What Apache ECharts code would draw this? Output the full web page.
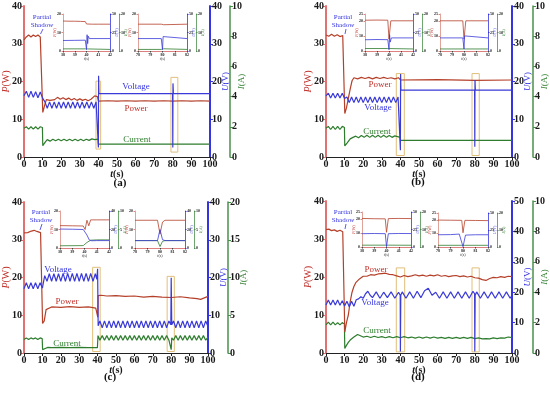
<!DOCTYPE html>
<html><head><meta charset="utf-8">
<script src="https://cdn.jsdelivr.net/npm/echarts@6/dist/echarts.min.js"></script>
<style>html,body{margin:0;padding:0;background:#fff}#c{width:550px;height:395px}</style>
</head><body><div id="c"></div>
<script>
// ---------------- DATA (t in s, value) ----------------
const powerA = [[0,31],[0.6,31.4],[1.25,31.8],[2.5,32.3],[3.75,31.8],[5,32.3],[6.25,31.9],[7.5,32.3],[8.75,31.8],[9.8,32],[10.1,11.8],[11,13.5],[12,15.2],[13,15.6],[14,15],[15,15.5],[16.5,15.2],[18,15.8],[19.5,15.3],[21,15.7],[22.5,15.2],[24,15.6],[25.5,15.1],[27,15.5],[28.5,15],[30,15.4],[31.5,15],[33,15.3],[34.5,14.9],[36,15.3],[37,15.8],[38,16.2],[39.5,16],[39.9,15.8],[40,14.8],[45,14.9],[50,14.8],[55,14.9],[60,14.8],[65,14.9],[70,14.8],[75,14.9],[80,14.8],[85,14.9],[90,14.8],[95,14.9],[100,14.8]];
const voltageA = [[0,16.2],[1.25,17.4],[2.5,15.8],[3.75,17.4],[5,15.8],[6.25,17.3],[7.5,15.7],[8.75,17.2],[10,15.6],[11.25,14.6],[12.5,12.9],[13.75,14.6],[15,12.9],[16.25,14.6],[17.5,12.9],[18.75,14.6],[20,12.9],[21.25,14.6],[22.5,12.9],[23.75,14.6],[25,12.9],[26.25,14.6],[27.5,12.9],[28.75,14.6],[30,12.9],[31.25,14.6],[32.5,12.9],[33.75,14.6],[35,12.9],[36.25,14.6],[37.5,12.9],[38.75,14.6],[39.8,14.2],[40,2.5],[40.1,21.5],[40.3,16.8],[79.9,16.8],[80,2.5],[80.1,19.5],[80.3,16.8],[100,16.8]];
const currentA = [[0,1.9],[1.25,2.0],[2.5,1.85],[3.75,2.0],[5,1.85],[6.25,2.0],[7.5,1.85],[8.75,2.0],[9.9,1.95],[10.1,0.75],[11.5,1.0],[12.5,1.15],[14,1.05],[15.5,1.18],[17,1.08],[18.5,1.18],[20,1.08],[21.5,1.18],[23,1.08],[24.5,1.18],[26,1.08],[27.5,1.18],[29,1.08],[30.5,1.18],[32,1.08],[33.5,1.18],[35,1.1],[36.5,1.2],[38,1.15],[39.9,1.18],[40,0.85],[100,0.85]];
const boxesA = [[38.7,2.1,41.2,20.1],[79,1.3,82.7,21.1]];

const powerB = [[0,32.3],[1.5,32],[3,32.5],[4.5,32],[6,32.4],[7.5,31.9],[9,32.2],[9.9,31.8],[10.1,11.5],[11,13],[12,15.5],[13,18],[14,20.2],[15,21],[17,20.7],[19,21.1],[21,20.8],[23,21.1],[25,20.7],[27,21.1],[29,20.8],[31,21.1],[33,20.8],[35,21],[37,20.7],[39,21],[40,20.4],[60,20.5],[80,20.3],[100,20.4]];
const voltageB = [[0,16.2],[1.25,16.9],[2.5,15.6],[3.75,16.9],[5,15.6],[6.25,16.9],[7.5,15.6],[8.75,16.9],[10,15.5],[11.25,15.9],[12.5,14.4],[13.75,15.9],[15,14.4],[16.25,15.9],[17.5,14.4],[18.75,15.9],[20,14.4],[21.25,15.9],[22.5,14.4],[23.75,15.9],[25,14.4],[26.25,15.9],[27.5,14.4],[28.75,15.9],[30,14.4],[31.25,15.9],[32.5,14.4],[33.75,15.9],[35,14.4],[36.25,15.9],[37.5,14.4],[38.75,15.9],[39.8,15.5],[40,1.8],[40.1,22],[40.3,17.7],[79.9,17.7],[80,2.7],[80.1,20.4],[80.3,17.7],[100,17.7]];
const currentB = [[0,1.9],[1.25,2.03],[2.5,1.82],[3.75,2.03],[5,1.82],[6.25,2.03],[7.5,1.82],[8.75,2.03],[9.9,1.95],[10.1,0.73],[11.5,0.95],[13,1.2],[14.5,1.3],[16,1.38],[17.5,1.28],[19,1.42],[20.5,1.3],[22,1.44],[23.5,1.3],[25,1.44],[26.5,1.3],[28,1.44],[29.5,1.3],[31,1.44],[32.5,1.3],[34,1.42],[35.5,1.3],[37,1.4],[38.5,1.35],[39.9,1.3],[40,1.1],[100,1.1]];
const boxesB = [[37.8,0.4,42.1,22.1],[78.5,0.4,82.4,22.1]];

const powerC = [[0,31.8],[2,31.9],[4,32.3],[5.5,32.5],[7,32.2],[9,31.9],[9.9,31.6],[10.1,7.8],[11,8.5],[12,11.5],[13,12],[15,12.2],[20,12.1],[25,12.3],[30,12.1],[35,12.2],[39,11.9],[39.9,11.8],[40.1,9.5],[40.3,15.2],[42,15.3],[45,15.1],[50,15.2],[55,15],[60,15.1],[65,14.8],[70,15],[75,14.8],[80,14.7],[85,14.9],[90,14.6],[94,14.4],[96,14.2],[98,14.6],[100,15]];
const voltageC = [[0,17],[1.25,18.6],[2.5,17],[3.75,18.6],[5,17],[6.25,18.6],[7.5,17],[8.75,18.6],[10,17.2],[11.25,20.5],[12.5,19],[13.75,21],[15,19],[16.25,21],[17.5,19],[18.75,21],[20,19],[21.25,21.1],[22.5,19],[23.75,21.1],[25,19],[26.25,21.1],[27.5,19],[28.75,21.1],[30,19],[31.25,21.1],[32.5,19],[33.75,21.1],[35,19],[36.25,21.1],[37.5,19],[38.75,21],[39.6,19.5],[40,22.3],[40.3,7.2],[41.25,8.5],[42.5,6.7],[43.75,8.5],[45,6.7],[46.25,8.5],[47.5,6.7],[48.75,8.5],[50,6.7],[51.25,8.5],[52.5,6.7],[53.75,8.5],[55,6.7],[56.25,8.5],[57.5,6.7],[58.75,8.5],[60,6.7],[61.25,8.5],[62.5,6.7],[63.75,8.5],[65,6.7],[66.25,8.5],[67.5,6.7],[68.75,8.5],[70,6.7],[71.25,8.5],[72.5,6.7],[73.75,8.5],[75,6.7],[76.25,8.5],[77.5,6.7],[78.75,8.5],[79.8,7.5],[80,19.9],[80.3,7.5],[81.25,8.5],[82.5,6.7],[83.75,8.5],[85,6.7],[86.25,8.5],[87.5,6.7],[88.75,8.5],[90,6.7],[91.25,8.5],[92.5,6.7],[93.75,8.5],[95,6.7],[96.25,8.5],[97.5,6.7],[98.75,8.5],[100,7]];
const currentC = [[0,1.8],[1.25,2.0],[2.5,1.8],[3.75,2.0],[5,1.85],[6.25,2.0],[7.5,1.8],[8.75,2.0],[9.9,1.9],[10.1,0.45],[11.5,0.6],[13,0.75],[15,0.72],[20,0.75],[25,0.72],[30,0.75],[35,0.72],[39.9,0.7],[40.2,2.3],[41.25,1.7],[42.5,2.3],[43.75,1.7],[45,2.3],[46.25,1.7],[47.5,2.3],[48.75,1.7],[50,2.3],[51.25,1.7],[52.5,2.3],[53.75,1.7],[55,2.3],[56.25,1.7],[57.5,2.3],[58.75,1.7],[60,2.3],[61.25,1.7],[62.5,2.3],[63.75,1.7],[65,2.3],[66.25,1.7],[67.5,2.3],[68.75,1.7],[70,2.3],[71.25,1.7],[72.5,2.3],[73.75,1.7],[75,2.3],[76.25,1.7],[77.5,2.3],[78.75,1.7],[79.8,1.9],[80,0.45],[80.3,2.0],[81.25,1.7],[82.5,2.3],[83.75,1.7],[85,2.3],[86.25,1.7],[87.5,2.3],[88.75,1.7],[90,2.3],[91.25,1.7],[92.5,2.3],[93.75,1.7],[95,2.3],[96.25,1.7],[97.5,2.3],[98.75,1.7],[100,2.1]];
const boxesC = [[37.3,0.4,41.4,22.7],[77.8,0.4,81.7,20.3]];

const powerD = [[0,32.5],[1.5,32.6],[3,32.2],[4.5,32.4],[6,32],[7.5,32.3],[9,31.9],[9.9,32.4],[10.1,5.5],[11,8],[12,10],[13,13.5],[14,16],[15,17.5],[16,18.5],[17,19],[18,19.5],[20,20.2],[22,20.2],[24,20.6],[26,20.5],[28,20.8],[30,20.9],[32,21],[34,20.7],[36,20.6],[38,20.3],[40,20],[42,20.4],[44,20.1],[46,20.3],[48,20.6],[50,20.3],[52,20.5],[54,20.2],[56,20.5],[58,20.3],[60,20.6],[62,20.2],[64,20.4],[66,20.1],[68,20.3],[70,20.4],[72,20.1],[74,20.3],[76,20],[78,20.2],[80,19.8],[82,19.7],[84,19.3],[86,19.1],[88,19.6],[90,19.9],[92,19.8],[94,20.1],[96,19.9],[98,20.2],[100,20.1]];
const voltageD = [[0,15.8],[1.25,17.4],[2.5,15.8],[3.75,17.4],[5,15.8],[6.25,17.4],[7.5,15.7],[8.75,17.2],[10,15.5],[11.25,17],[12.5,15.2],[13.75,17],[15,15.4],[16.25,17.5],[17.5,17.8],[18.75,18.5],[20,18],[21.25,19.5],[22.5,20.3],[23.75,19],[25,18.2],[27,20.1],[29,18],[31,20],[33,18.2],[35,20.1],[37,18],[39,20],[39.9,19],[40,0.5],[40.2,19],[41,20.1],[43,18],[45,20.1],[47,18],[49,20.3],[51,18.2],[53,20.5],[55,21.3],[57,19],[59,20],[61,18],[63,20.1],[65,18],[67,20.1],[69,18],[71,20.1],[73,18],[75,20.1],[77,18],[79,20.3],[79.9,19.5],[80,0.5],[80.2,19],[81,20.1],[83,18],[85,20.1],[87,18],[89,20.1],[91,18],[93,20.1],[95,18],[97,20.1],[99,18],[100,19]];
const currentD = [[0,1.85],[1.25,2.03],[2.5,1.85],[3.75,2.03],[5,1.85],[6.25,2.0],[7.5,1.85],[8.75,2.0],[9.9,1.9],[10.1,0.3],[11,0.5],[12,0.7],[13,0.85],[14,0.95],[15,1.05],[16,1.15],[17,1.22],[18,1.15],[20,1.05],[22,1.1],[24,1.02],[26,1.1],[28,1.02],[30,1.08],[32,1.0],[34,1.08],[36,1.0],[38,1.08],[40,1.0],[42,1.08],[44,1.0],[46,1.05],[48,0.98],[50,1.05],[52,0.98],[54,1.05],[56,0.98],[58,1.05],[60,0.98],[62,1.03],[64,0.96],[66,1.03],[68,0.96],[70,1.03],[72,0.96],[74,1.03],[76,0.96],[78,1.03],[80,0.95],[82,1.0],[84,0.93],[86,0.95],[88,0.93],[90,1.0],[92,0.95],[94,1.0],[96,0.98],[98,1.05],[100,1.02]];
const boxesD = [[37.8,0.3,42.3,22.4],[78.5,0.3,82.4,22.4]];

// inset data (zoomed views around 40 s and 80 s)
const insA1P = [[38,16.2],[38.5,16.1],[39,16.1],[39.5,16.0],[39.9,15.9],[40,14.6],[40.5,14.5],[41,14.5],[42,14.5]];
const insA1U = [[38,14.2],[39,14.4],[39.9,14.6],[40,2],[40.05,22],[40.1,10],[40.15,20],[40.25,16.8],[42,16.8]];
const insA1I = [[38,1.15],[39.9,1.15],[40,0.85],[42,0.85]];
const insA2P = [[78,14.5],[79.9,14.5],[80,15.5],[80.1,14.2],[80.2,14.5],[82,14.5]];
const insA2U = [[78,16.8],[79.9,16.8],[80,2],[80.05,19.5],[80.15,16.8],[82,16.8]];
const insA2I = [[78,0.85],[79.9,0.85],[80,0.3],[80.1,1.2],[80.2,0.85],[82,0.85]];
const insB1P = [[38,20.8],[39,20.9],[39.9,20.8],[40,8],[40.15,20.4],[42,20.4]];
const insB1U = [[38,15.2],[39,15.5],[39.9,15.3],[40,1.8],[40.05,22],[40.1,12],[40.2,17.7],[42,17.7]];
const insB1I = [[38,1.35],[39.9,1.35],[40,1.1],[42,1.1]];
const insB2P = [[78,20.4],[79.9,20.4],[80,8],[80.15,20.4],[82,20.4]];
const insB2U = [[78,17.7],[79.9,17.7],[80,2.7],[80.05,20.4],[80.15,17.7],[82,17.7]];
const insB2I = [[78,1.1],[79.9,1.1],[80,0.6],[80.1,1.1],[82,1.1]];
const insC1P = [[38,12.1],[39,12],[39.9,11.9],[40.05,10],[40.2,15],[40.35,12],[40.5,15.2],[41,15.2],[42,15.2]];
const insC1U = [[38,20.5],[39,20.3],[39.9,20],[40.2,14],[40.4,8.5],[40.6,7.8],[41,8],[42,8]];
const insC1I = [[38,0.6],[39.9,0.65],[40.2,1.5],[40.5,2.1],[41,2.2],[42,2.2]];
const insC2P = [[78,15],[79.8,15],[80,7.5],[80.2,14],[80.4,15],[82,15]];
const insC2U = [[78,8],[79.8,8],[80,20],[80.2,9],[80.4,8],[82,8]];
const insC2I = [[78,2],[79.8,2],[80,0.4],[80.2,1.8],[80.4,2],[82,2]];
const insD1P = [[38,20.4],[39,20.2],[39.9,20.1],[40,10.5],[40.15,20.3],[41,20.4],[42,20.3]];
const insD1U = [[38,19],[39,19.3],[39.9,19],[40,0.5],[40.15,19],[41,19.3],[42,19.2]];
const insD1I = [[38,1.05],[39.9,1.05],[40,0.3],[40.15,1.05],[42,1.0]];
const insD2P = [[78,19.8],[79,19.7],[79.9,19.6],[80,10.5],[80.15,19.6],[81,19.5],[82,19.4]];
const insD2U = [[78,18],[79,18.2],[79.7,19],[80,0.5],[80.2,17.5],[81,18],[82,18]];
const insD2I = [[78,1.0],[79.9,1.0],[80,0.3],[80.15,1.0],[82,1.0]];

const seriesNames = ['Power','Voltage','Current'];
const panelTags = ['(a)','(b)','(c)','(d)'];
const annotationText = ['Partial','Shadow'];

// ---------------- STYLE / LAYOUT ----------------
const SERIF = 'Liberation Serif';
const COL = {P:'#b5402a', U:'#3a3ad8', I:'#2e7d2e', Pax:'#e07272', Uax:'#3434e0', Iax:'#4a8f4a', box:'#e2bf7a', txt:'#1a1a1a'};
const option = {animation:false, backgroundColor:'#fff', grid:[], xAxis:[], yAxis:[], series:[], graphic:[]};
const tickLbl = (sz)=>({fontFamily:SERIF, fontWeight:'bold', fontSize:sz, color:COL.txt});

function yAx(gi, pos, off, min, max, interval, color, name, nameColor, gap, sz, nsz, lw, tl){
  option.yAxis.push({type:'value', gridIndex:gi, position:pos, offset:off, min, max, interval,
    axisLine:{show:true, onZero:false, lineStyle:{color, width:lw}},
    axisTick:{show:true, length:tl, lineStyle:{color, width:1}},
    axisLabel:Object.assign({margin:2}, tickLbl(sz)),
    splitLine:{show:false},
    name, nameLocation:'middle', nameGap:gap, nameMoveOverlap:false,
    nameTextStyle:{fontFamily:SERIF, fontSize:nsz, color:nameColor, rich:{i:{fontFamily:SERIF, fontSize:nsz, fontStyle:'italic', color:nameColor}}}
  });
  return option.yAxis.length-1;
}
function lineSeries(gi, yi, data, color, w, z){
  return {type:'line', xAxisIndex:gi, yAxisIndex:yi, data, showSymbol:false, symbol:'none', z,
    lineStyle:{color, width:w}, silent:true};
}

function addPanel(p){
  const gi = option.grid.length;
  option.grid.push({left:p.left, top:p.top, width:p.width, height:p.height});
  option.xAxis.push({type:'value', gridIndex:gi, min:0, max:100, interval:10,
    axisLine:{onZero:false, lineStyle:{color:'#222', width:1.2}}, axisTick:{length:3, lineStyle:{color:'#222'}},
    axisLabel:Object.assign({margin:2}, tickLbl(10)), splitLine:{show:false},
    name:'{i|t}(s)', nameLocation:'middle', nameGap:12, nameMoveOverlap:false,
    nameTextStyle:{fontFamily:SERIF, fontWeight:'bold', fontSize:10, color:COL.txt, rich:{i:{fontFamily:SERIF, fontWeight:'bold', fontStyle:'italic', fontSize:10, color:COL.txt}}}});
  const yP = yAx(gi,'left',0,0,40,10,COL.Pax,'{i|P}(W)','#c0302a',13,10,10,2,3);
  const yU = yAx(gi,'right',0,0,p.uMax,10,COL.Uax,'{i|U}(V)','#3434e0',11,10,9,2,3);
  const yI = yAx(gi,'right',p.iOff,0,p.iMax,p.iInt,COL.Iax,'{i|I}(A)','#2e7d2e',p.iGap,10,9,1.5,3);
  const ps = lineSeries(gi,yP,p.P,COL.P,1.2,3);
  ps.markArea = {silent:true, itemStyle:{color:'rgba(0,0,0,0)', borderColor:COL.box, borderWidth:1},
    data:p.boxes.map(b=>[{coord:[b[0],b[1]]},{coord:[b[2],b[3]]}])};
  option.series.push(lineSeries(gi,yI,p.I,COL.I,1.2,3));
  option.series.push(ps);
  option.series.push(lineSeries(gi,yU,p.U,COL.U,1.2,4));
  const lab = (txt,x,y,c)=>option.graphic.push({type:'text', x, y, z:50, style:{text:txt, fill:c, font:'9px "Liberation Serif"', textAlign:'center', textVerticalAlign:'middle'}});
  lab(seriesNames[0], p.lp[0], p.lp[1], '#c0302a');
  lab(seriesNames[1], p.lv[0], p.lv[1], '#3434e0');
  lab(seriesNames[2], p.lc[0], p.lc[1], '#2e7d2e');
  option.graphic.push({type:'text', x:p.ps[0], y:p.ps[1], z:50, style:{text:annotationText.join('\n'), fill:'#3434e0', font:'7px "Liberation Serif"', textAlign:'center', lineHeight:8}});
  option.graphic.push({type:'line', z:50, shape:{x1:p.arrow[0], y1:p.arrow[1], x2:p.arrow[2], y2:p.arrow[3]}, style:{stroke:'#3434e0', lineWidth:0.8}});
  option.graphic.push({type:'text', x:p.tag[0], y:p.tag[1], z:50, style:{text:p.tagText, fill:'#111', font:'bold 11px "Liberation Serif"', textAlign:'center', textVerticalAlign:'middle'}});
}

function addInset(s){
  const gi = option.grid.length;
  option.grid.push({left:s.left, top:s.top, width:s.width, height:s.height, show:true, backgroundColor:'#fff', borderWidth:0, z:5});
  option.xAxis.push({type:'value', gridIndex:gi, min:s.t0, max:s.t0+4, interval:1, z:6,
    axisLine:{onZero:false, lineStyle:{color:'#d46060', width:0.8}}, axisTick:{length:1.5, lineStyle:{color:'#444'}},
    axisLabel:Object.assign({margin:1.5}, tickLbl(4)), splitLine:{show:false},
    name:'{i|t}(s)', nameLocation:'middle', nameGap:6, nameMoveOverlap:false,
    nameTextStyle:{fontFamily:SERIF, fontSize:4, color:'#333', rich:{i:{fontFamily:SERIF, fontStyle:'italic', fontSize:4, color:'#333'}}}});
  const yP = yAx(gi,'left',0,0,s.pMax,10,'#d98a80','{i|P}(W)','#c0302a',6,4,4,0.8,1.5);
  const yU = yAx(gi,'right',0,0,s.uMax,s.uInt,COL.Uax,'{i|U}(V)','#3434e0',5,4,4,0.8,1.5);
  const yI = yAx(gi,'right',9,0,s.iMax,s.iInt,COL.Iax,'{i|I}(A)','#2e7d2e',5,4,4,0.8,1.5);
  option.yAxis[yP].z = option.yAxis[yU].z = option.yAxis[yI].z = 6;
  option.series.push(lineSeries(gi,yI,s.I,COL.I,0.8,7));
  option.series.push(lineSeries(gi,yP,s.P,COL.P,0.8,7));
  option.series.push(lineSeries(gi,yU,s.U,COL.U,0.8,8));
}

addPanel({left:22, top:6, width:188, height:151, uMax:40, iMax:10, iInt:2, iOff:20, iGap:7, P:powerA, U:voltageA, I:currentA, boxes:boxesA,
  lp:[136,109], lv:[136,87], lc:[137,140], ps:[42,13], arrow:[43,29,40.5,34], tag:[120,183], tagText:panelTags[0]});
addPanel({left:326, top:6, width:186, height:151, uMax:40, iMax:10, iInt:2, iOff:21, iGap:7, P:powerB, U:voltageB, I:currentB, boxes:boxesB,
  lp:[380,85], lv:[378,108], lc:[377,132], ps:[343,13], arrow:[346,29,345,34], tag:[418,182], tagText:panelTags[1]});
addPanel({left:21, top:202, width:187, height:151, uMax:40, iMax:20, iInt:5, iOff:20, iGap:11, P:powerC, U:voltageC, I:currentC, boxes:boxesC,
  lp:[67,302], lv:[58,270], lc:[67,344], ps:[41,208], arrow:[42,224,40,230], tag:[110,377], tagText:panelTags[2]});
addPanel({left:326, top:201, width:186, height:152, uMax:50, iMax:10, iInt:2, iOff:21, iGap:7, P:powerD, U:voltageD, I:currentD, boxes:boxesD,
  lp:[376,270], lv:[375,303], lc:[377,331], ps:[343,208], arrow:[346,224,345,229], tag:[418,377], tagText:panelTags[3]});

addInset({left:63, top:14, width:47, height:37, t0:38, P:insA1P, U:insA1U, I:insA1I, pMax:20, uMax:50, uInt:25, iMax:20, iInt:10});
addInset({left:138, top:14, width:49, height:37, t0:78, P:insA2P, U:insA2U, I:insA2I, pMax:20, uMax:50, uInt:25, iMax:20, iInt:10});
addInset({left:365, top:14, width:48, height:37, t0:38, P:insB1P, U:insB1U, I:insB1I, pMax:25, uMax:50, uInt:25, iMax:20, iInt:10});
addInset({left:440, top:14, width:48, height:37, t0:78, P:insB2P, U:insB2U, I:insB2I, pMax:25, uMax:50, uInt:25, iMax:20, iInt:10});
addInset({left:60, top:211, width:49, height:37, t0:38, P:insC1P, U:insC1U, I:insC1I, pMax:20, uMax:40, uInt:20, iMax:10, iInt:5});
addInset({left:135, top:211, width:50, height:37, t0:78, P:insC2P, U:insC2U, I:insC2I, pMax:20, uMax:40, uInt:20, iMax:10, iInt:5});
addInset({left:362, top:212, width:49, height:35, t0:38, P:insD1P, U:insD1U, I:insD1I, pMax:25, uMax:50, uInt:25, iMax:20, iInt:10});
addInset({left:438, top:213, width:50, height:34, t0:78, P:insD2P, U:insD2U, I:insD2I, pMax:25, uMax:50, uInt:25, iMax:20, iInt:10});

const chart = echarts.init(document.getElementById('c'), null, {renderer:'canvas'});
chart.setOption(option);
</script></body></html>
